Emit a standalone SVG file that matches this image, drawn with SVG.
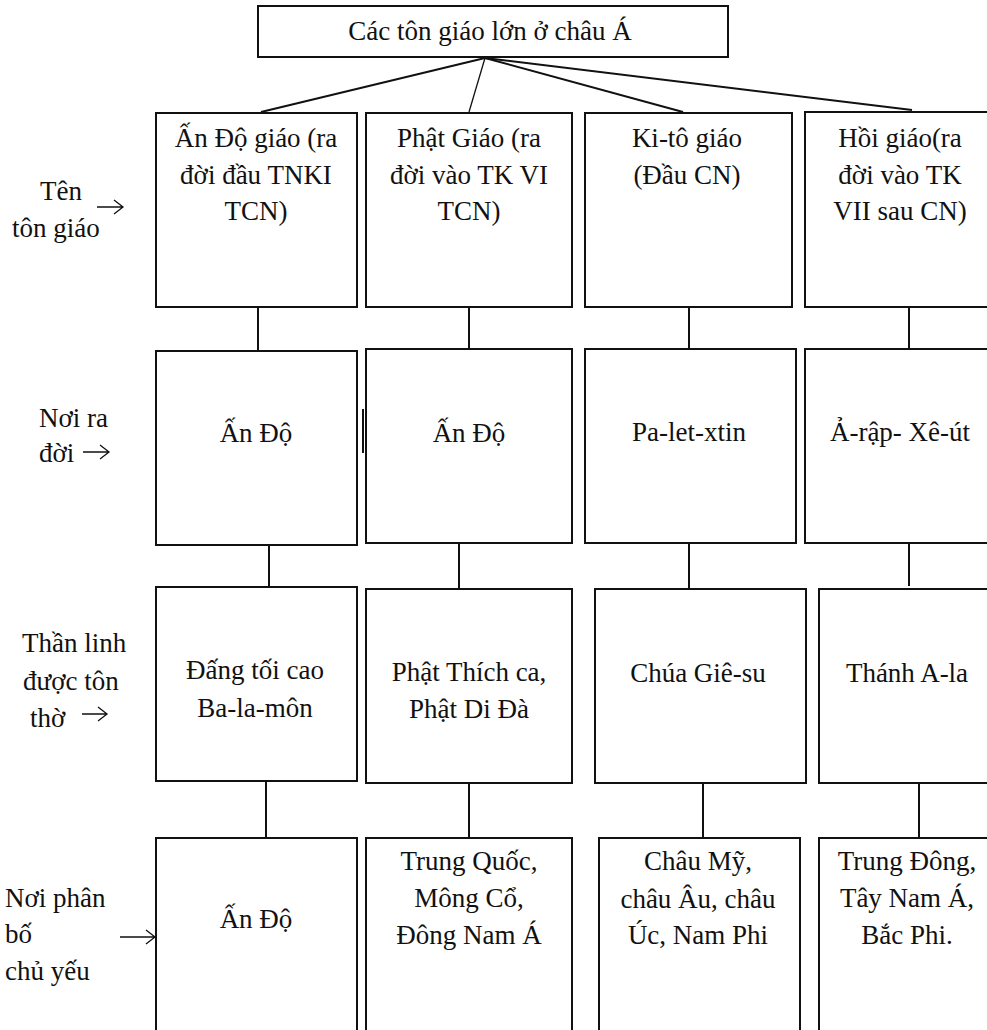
<svg xmlns="http://www.w3.org/2000/svg" width="987" height="1030" viewBox="0 0 987 1030">
<style>
.box{fill:#fff;stroke:#111;stroke-width:2}
.ln{stroke:#111;stroke-width:2;fill:none}
.thin{stroke:#111;stroke-width:1.3;fill:none}
text{font-family:"Liberation Serif","Times New Roman",serif;font-size:27px;fill:#111}
.c{text-anchor:middle}
</style>
<rect width="987" height="1030" fill="#fff"/>
<g id="connectors">
<line class="ln" x1="485" y1="58" x2="261" y2="112"/>
<line class="thin" x1="485" y1="58" x2="469" y2="112"/>
<line class="ln" x1="485" y1="58" x2="683" y2="112"/>
<line class="ln" x1="485" y1="58" x2="912" y2="110"/>
<line class="ln" x1="258" y1="307" x2="258" y2="351"/>
<line class="ln" x1="469" y1="307" x2="469" y2="349"/>
<line class="ln" x1="689" y1="307" x2="689" y2="349"/>
<line class="ln" x1="909" y1="307" x2="909" y2="349"/>
<line class="ln" x1="269" y1="545" x2="269" y2="587"/>
<line class="ln" x1="459" y1="543" x2="459" y2="589"/>
<line class="ln" x1="689" y1="543" x2="689" y2="589"/>
<line class="ln" x1="909" y1="543" x2="909" y2="586"/>
<line class="ln" x1="266" y1="781" x2="266" y2="838"/>
<line class="ln" x1="469" y1="783" x2="469" y2="838"/>
<line class="ln" x1="703" y1="783" x2="703" y2="838"/>
<line class="ln" x1="919" y1="781" x2="919" y2="838"/>
<line class="ln" x1="363" y1="409" x2="363" y2="453"/>
</g>
<g id="root">
<rect class="box" x="258" y="6" width="470" height="51"/>
<text class="c" x="490" y="40">Các tôn giáo lớn ở châu Á</text>
</g>
<g id="label-ten">
<text x="40" y="200">Tên</text>
<text x="12" y="237">tôn giáo</text>
<path class="thin" d="M97 207H123M114 200L123 207L114 214"/>
</g>
<g id="label-noi-ra-doi">
<text x="39" y="427">Nơi ra</text>
<text x="39" y="462">đời</text>
<path class="thin" d="M83 452H109M100 445L109 452L100 459"/>
</g>
<g id="label-than-linh">
<text x="22" y="652">Thần linh</text>
<text x="23" y="690">được tôn</text>
<text x="30" y="727">thờ</text>
<path class="thin" d="M82 714H107M98 707L107 714L98 721"/>
</g>
<g id="label-phan-bo">
<text x="5" y="907">Nơi phân</text>
<text x="5" y="943">bố</text>
<text x="5" y="980">chủ yếu</text>
<path class="thin" d="M120 937H155M146 930L155 937L146 944"/>
</g>
<g id="r1c1"><rect class="box" x="156" y="113" width="201" height="194"/>
<text class="c" x="256" y="147">Ấn Độ giáo (ra</text>
<text class="c" x="256" y="184">đời đầu TNKI</text>
<text class="c" x="256" y="220">TCN)</text></g>
<g id="r1c2"><rect class="box" x="366" y="113" width="206" height="194"/>
<text class="c" x="469" y="147">Phật Giáo (ra</text>
<text class="c" x="469" y="184">đời vào TK VI</text>
<text class="c" x="469" y="220">TCN)</text></g>
<g id="r1c3"><rect class="box" x="585" y="113" width="207" height="194"/>
<text class="c" x="687" y="147">Ki-tô giáo</text>
<text class="c" x="687" y="184">(Đầu CN)</text></g>
<g id="r1c4"><rect class="box" x="805" y="112" width="190" height="195"/>
<text class="c" x="900" y="147">Hồi giáo(ra</text>
<text class="c" x="900" y="184">đời vào TK</text>
<text class="c" x="900" y="220">VII sau CN)</text></g>
<g id="r2c1"><rect class="box" x="156" y="351" width="201" height="194"/>
<text class="c" x="256" y="442">Ấn Độ</text></g>
<g id="r2c2"><rect class="box" x="366" y="349" width="206" height="194"/>
<text class="c" x="469" y="442">Ấn Độ</text></g>
<g id="r2c3"><rect class="box" x="585" y="349" width="211" height="194"/>
<text class="c" x="689" y="441">Pa-let-xtin</text></g>
<g id="r2c4"><rect class="box" x="805" y="349" width="190" height="194"/>
<text class="c" x="900" y="441">Ả-rập- Xê-út</text></g>
<g id="r3c1"><rect class="box" x="156" y="587" width="201" height="194"/>
<text class="c" x="255" y="679">Đấng tối cao</text>
<text class="c" x="255" y="717">Ba-la-môn</text></g>
<g id="r3c2"><rect class="box" x="366" y="589" width="206" height="194"/>
<text class="c" x="469" y="681">Phật Thích ca,</text>
<text class="c" x="469" y="718">Phật Di Đà</text></g>
<g id="r3c3"><rect class="box" x="595" y="589" width="211" height="194"/>
<text class="c" x="698" y="682">Chúa Giê-su</text></g>
<g id="r3c4"><rect class="box" x="819" y="589" width="176" height="194"/>
<text class="c" x="907" y="682">Thánh A-la</text></g>
<g id="r4c1"><rect class="box" x="156" y="838" width="201" height="200"/>
<text class="c" x="256" y="928">Ấn Độ</text></g>
<g id="r4c2"><rect class="box" x="366" y="838" width="206" height="200"/>
<text class="c" x="469" y="870">Trung Quốc,</text>
<text class="c" x="469" y="907">Mông Cổ,</text>
<text class="c" x="469" y="944">Đông Nam Á</text></g>
<g id="r4c3"><rect class="box" x="599" y="838" width="201" height="200"/>
<text class="c" x="698" y="870">Châu Mỹ,</text>
<text class="c" x="698" y="908">châu Âu, châu</text>
<text class="c" x="698" y="944">Úc, Nam Phi</text></g>
<g id="r4c4"><rect class="box" x="819" y="838" width="176" height="200"/>
<text class="c" x="907" y="870">Trung Đông,</text>
<text class="c" x="907" y="907">Tây Nam Á,</text>
<text class="c" x="907" y="944">Bắc Phi.</text></g>
</svg>
